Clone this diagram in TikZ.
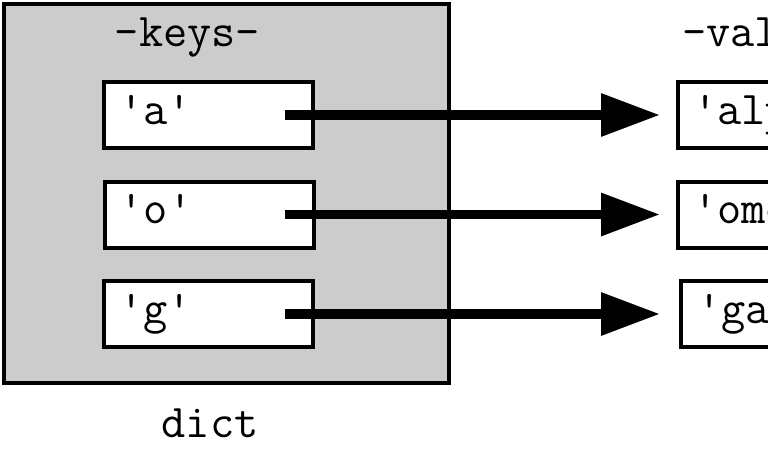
\documentclass[tikz,border=0pt]{standalone}
\usepackage{fontspec}
\usetikzlibrary{arrows.meta}
\definecolor{dictgray}{HTML}{CCCCCC}
\tikzset{
  x=1pt, y=-1pt,
  frame/.style={draw=black, line width=4pt, rectangle, inner sep=0pt},
  keybox/.style={frame, fill=white, minimum width=209pt, minimum height=66pt},
  valbox/.style={frame, fill=white, minimum width=160pt, minimum height=66pt, anchor=west},
  lbl/.style={font=\ttfamily\fontsize{47}{55}\selectfont, inner sep=0pt, text=black},
  ptr/.style={line width=9.5pt, -{Triangle[length=59pt,width=41pt]}},
}
\begin{document}
\begin{tikzpicture}
\useasboundingbox (0,0) rectangle (768,460);
\clip (0,0) rectangle (768,460);
\node[frame, fill=dictgray, minimum width=445pt, minimum height=379pt, anchor=north west] (dict) at (2,2) {};
\node[lbl, anchor=base] (keys) at (187.5,47) {-keys-};
\node[lbl, anchor=base] (dictlbl) at (210,437) {dict};
\node[keybox] (k1) at (208.5,115) {};
\node[keybox] (k2) at (209,214.5) {};
\node[keybox] (k3) at (208.5,314) {};
\node[lbl, anchor=base] (t1) at (155.5,124) {'a'};
\node[lbl, anchor=base] (t2) at (156,223) {'o'};
\node[lbl, anchor=base] (t3) at (155.5,323) {'g'};
\node[valbox] (v1) at (676,115) {};
\node[valbox] (v2) at (676,214.5) {};
\node[valbox] (v3) at (679,314) {};
\node[lbl, anchor=base west] (vals) at (682,47) {-values-};
\node[lbl, anchor=base west] (u1) at (693,124) {'alpha'};
\node[lbl, anchor=base west] (u2) at (693,223) {'omega'};
\node[lbl, anchor=base west] (u3) at (697,323) {'gamma'};
\draw[ptr, shorten >=16pt] ([xshift=-30pt]k1.east) -- (v1.west);
\draw[ptr, shorten >=16pt] ([xshift=-31pt]k2.east) -- (v2.west);
\draw[ptr, shorten >=19pt] ([xshift=-30pt]k3.east) -- (v3.west);
\end{tikzpicture}
\end{document}
